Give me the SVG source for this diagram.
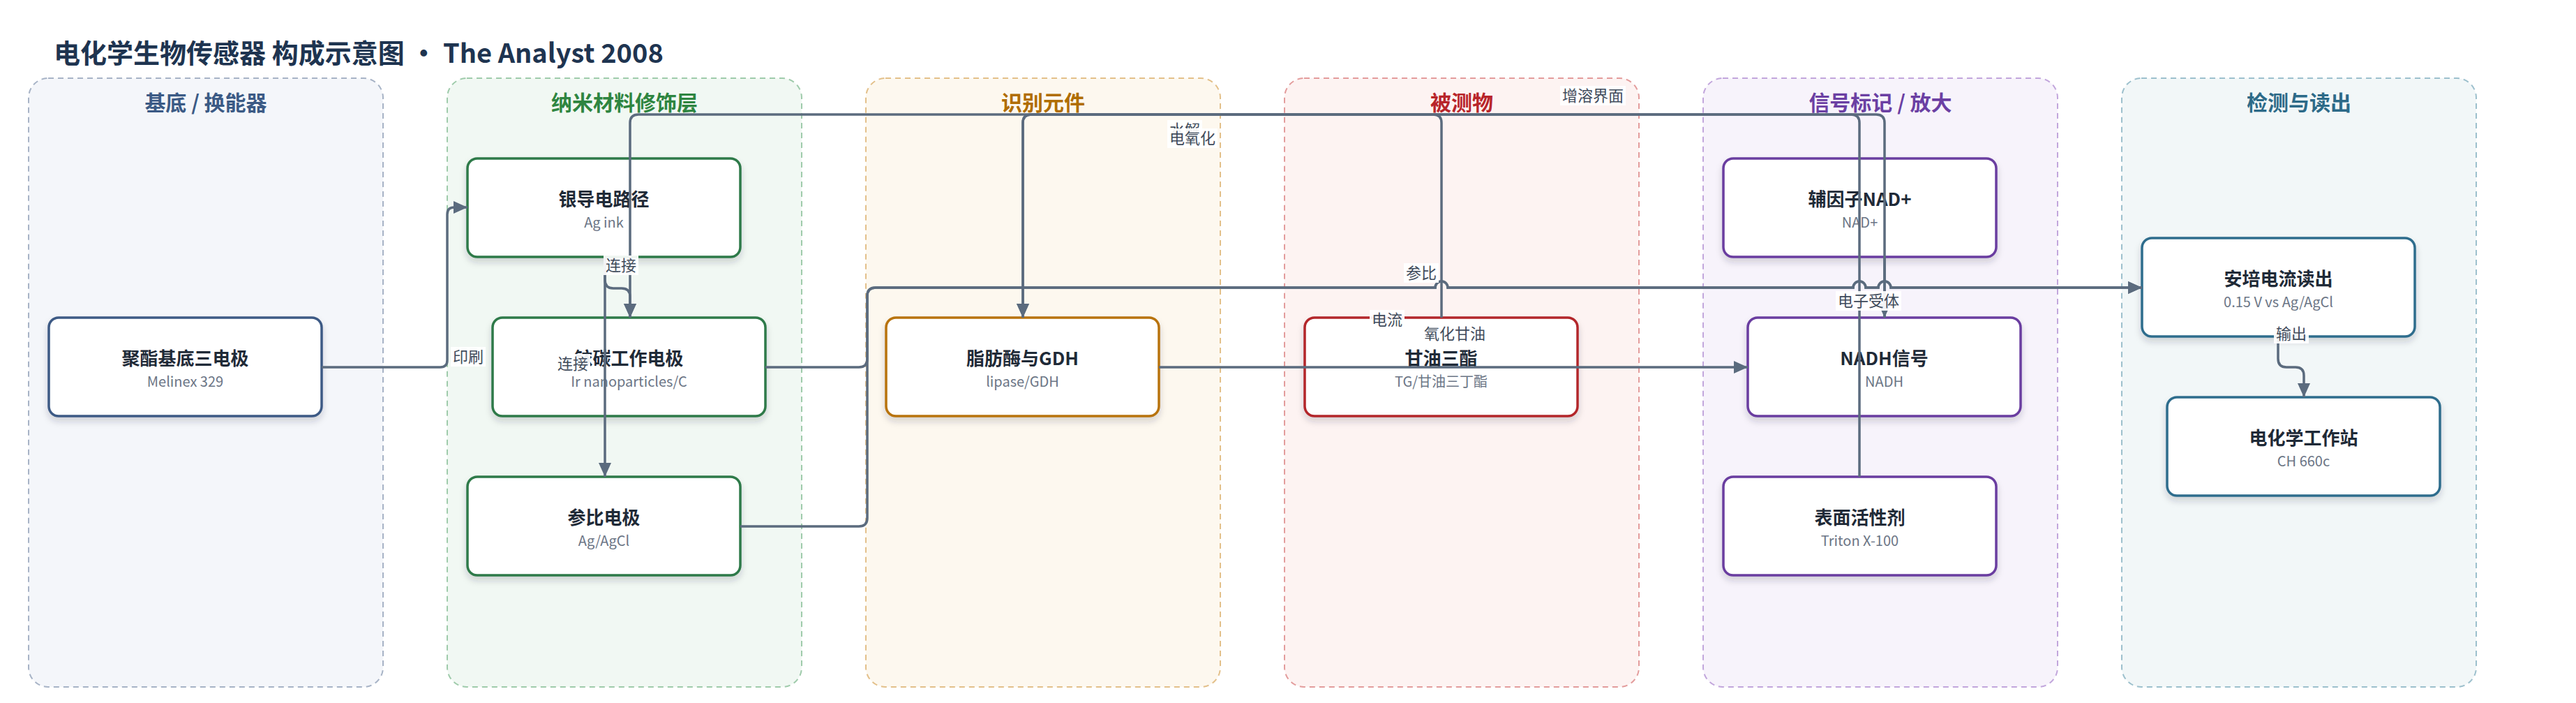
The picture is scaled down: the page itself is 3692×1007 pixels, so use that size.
<svg xmlns="http://www.w3.org/2000/svg" width="3692" height="1007" viewBox="0 0 3692 1007">
<defs>
<style>
text{font-family:"Noto Sans CJK SC","Noto Sans",sans-serif}
.title{font-size:38px;font-weight:700;fill:#1e3450}
.glabel{font-size:30px;font-weight:700;text-anchor:middle}
.grp{stroke-width:2;stroke-dasharray:8 6}
.node{fill:#ffffff;stroke-width:3.5;filter:url(#sh)}
.nt{font-size:26px;font-weight:700;fill:#1f2a37;text-anchor:middle}
.ns{font-size:20px;fill:#6b7585;text-anchor:middle}
.edge{fill:none;stroke:#5b6b7e;stroke-width:3.5}
.arr{marker-end:url(#ah)}
.lb{fill:#ffffff;fill-opacity:0.92}
.lt{font-size:22px;fill:#3f4b5b;text-anchor:middle}
</style>
<filter id="sh" x="-10%" y="-20%" width="120%" height="150%">
<feDropShadow dx="0" dy="6" stdDeviation="5" flood-color="#1f2a37" flood-opacity="0.18"/>
</filter>
<marker id="ah" markerUnits="userSpaceOnUse" markerWidth="20" markerHeight="18" refX="20" refY="9" orient="auto">
<path d="M0,0 L20,9 L0,18 z" fill="#5b6b7e"/>
</marker>
</defs>
<rect width="3692" height="1007" fill="#ffffff"/>
<text class="title" x="77" y="90">电化学生物传感器 构成示意图 · The Analyst 2008</text>

<g id="groups">
<g id="g_substrate"><rect class="grp" x="41" y="112" width="508" height="872" rx="28" fill="#f4f6fa" stroke="#a7b3c6"/><text class="glabel" x="295" y="158" fill="#3b5a85">基底 / 换能器</text></g>
<g id="g_nano"><rect class="grp" x="641" y="112" width="508" height="872" rx="28" fill="#f1f8f3" stroke="#9fcbab"/><text class="glabel" x="895" y="158" fill="#2e8540">纳米材料修饰层</text></g>
<g id="g_recog"><rect class="grp" x="1241" y="112" width="508" height="872" rx="28" fill="#fdf8ef" stroke="#e3c08a"/><text class="glabel" x="1495" y="158" fill="#b06d00">识别元件</text></g>
<g id="g_analyte"><rect class="grp" x="1841" y="112" width="508" height="872" rx="28" fill="#fdf3f2" stroke="#e39c9c"/><text class="glabel" x="2095" y="158" fill="#b8252a">被测物</text></g>
<g id="g_signal"><rect class="grp" x="2441" y="112" width="508" height="872" rx="28" fill="#f7f3fb" stroke="#c2a6dc"/><text class="glabel" x="2695" y="158" fill="#6b3fa3">信号标记 / 放大</text></g>
<g id="g_readout"><rect class="grp" x="3041" y="112" width="508" height="872" rx="28" fill="#f2f7f8" stroke="#9dc0cd"/><text class="glabel" x="3295" y="158" fill="#2d6a88">检测与读出</text></g>
</g>

<g id="nodes">
<g id="n_pet"><rect class="node" x="70" y="455" width="391" height="141" rx="14" stroke="#3d5a85"/><text class="nt" x="265.5" y="523">聚酯基底三电极</text><text class="ns" x="265.5" y="554">Melinex 329</text></g>
<g id="n_ag"><rect class="node" x="670" y="227" width="391" height="141" rx="14" stroke="#2e7a48"/><text class="nt" x="865.5" y="295">银导电路径</text><text class="ns" x="865.5" y="326">Ag ink</text></g>
<g id="n_ir"><rect class="node" x="706" y="455" width="391" height="141" rx="14" stroke="#2e7a48"/><text class="nt" x="901.5" y="523">铱碳工作电极</text><text class="ns" x="901.5" y="554">Ir nanoparticles/C</text></g>
<g id="n_ref"><rect class="node" x="670" y="683" width="391" height="141" rx="14" stroke="#2e7a48"/><text class="nt" x="865.5" y="751">参比电极</text><text class="ns" x="865.5" y="782">Ag/AgCl</text></g>
<g id="n_lip"><rect class="node" x="1270" y="455" width="391" height="141" rx="14" stroke="#b8730a"/><text class="nt" x="1465.5" y="523">脂肪酶与GDH</text><text class="ns" x="1465.5" y="554">lipase/GDH</text></g>
<g id="n_tg"><rect class="node" x="1870" y="455" width="391" height="141" rx="14" stroke="#b3262b"/><text class="nt" x="2065.5" y="523">甘油三酯</text><text class="ns" x="2065.5" y="554">TG/甘油三丁酯</text></g>
<g id="n_nad"><rect class="node" x="2470" y="227" width="391" height="141" rx="14" stroke="#6a3ea0"/><text class="nt" x="2665.5" y="295">辅因子NAD+</text><text class="ns" x="2665.5" y="326">NAD+</text></g>
<g id="n_nadh"><rect class="node" x="2505" y="455" width="391" height="141" rx="14" stroke="#6a3ea0"/><text class="nt" x="2700.5" y="523">NADH信号</text><text class="ns" x="2700.5" y="554">NADH</text></g>
<g id="n_surf"><rect class="node" x="2470" y="683" width="391" height="141" rx="14" stroke="#6a3ea0"/><text class="nt" x="2665.5" y="751">表面活性剂</text><text class="ns" x="2665.5" y="782">Triton X-100</text></g>
<g id="n_amp"><rect class="node" x="3070" y="341" width="391" height="141" rx="14" stroke="#2f6d8d"/><text class="nt" x="3265.5" y="409">安培电流读出</text><text class="ns" x="3265.5" y="440">0.15 V vs Ag/AgCl</text></g>
<g id="n_ws"><rect class="node" x="3106" y="569" width="391" height="141" rx="14" stroke="#2f6d8d"/><text class="nt" x="3301.5" y="637">电化学工作站</text><text class="ns" x="3301.5" y="668">CH 660c</text></g>
</g>

<g id="connectors">
<path id="e_print" class="edge arr" d="M461,526 H631 Q641,526 641,516 V307 Q641,297 651,297 H670"/>
<path id="e_conn1" class="edge arr" d="M867,368 V401 Q867,413 879,413 H891 Q903,413 903,425 V455"/>
<path id="e_conn2" class="edge arr" d="M867,368 V683"/>
<path id="e_surf" class="edge arr" d="M2665,683 V176 Q2665,164 2653,164 H1478 Q1466,164 1466,176 V455"/>
<path id="e_hydro" class="edge arr" d="M2066,455 V176 Q2066,164 2054,164 H1478 Q1466,164 1466,176 V455"/>
<path id="e_elox" class="edge arr" d="M2701,455 V176 Q2701,164 2689,164 H915 Q903,164 903,176 V455"/>
<path id="e_acc" class="edge arr" d="M2701,368 V455"/>
<path id="e_glyc" class="edge arr" d="M1661,526 H2505"/>
<path id="e_cur" class="edge arr" d="M1097,526 H1231 Q1243,526 1243,514 V424 Q1243,412 1255,412 H2057 A9,9 0 0 1 2075,412 H2656 A9,9 0 0 1 2674,412 H2692 A9,9 0 0 1 2710,412 H3070"/>
<path id="e_refl" class="edge arr" d="M1061,754 H1231 Q1243,754 1243,742 V424 Q1243,412 1255,412 H2057 A9,9 0 0 1 2075,412 H2656 A9,9 0 0 1 2674,412 H2692 A9,9 0 0 1 2710,412 H3070"/>
<path id="e_out" class="edge arr" d="M3265,482 V514 Q3265,526 3277,526 H3290 Q3302,526 3302,538 V569"/>
<g id="edge_labels">
<rect class="lb" x="646" y="497" width="50" height="28"/><text class="lt" x="671" y="519">印刷</text>
<rect class="lb" x="865" y="366" width="50" height="28"/><text class="lt" x="890" y="388">连接</text>
<rect class="lb" x="796" y="507" width="50" height="28"/><text class="lt" x="821" y="529">连接</text>
<rect class="lb" x="1673" y="172" width="50" height="28"/><text class="lt" x="1698" y="194">水解</text>
<rect class="lb" x="1673" y="184" width="72" height="28"/><text class="lt" x="1709" y="206">电氧化</text>
<rect class="lb" x="2236" y="123" width="94" height="28"/><text class="lt" x="2283" y="145">增溶界面</text>
<rect class="lb" x="2012" y="377" width="50" height="28"/><text class="lt" x="2037" y="399">参比</text>
<rect class="lb" x="1963" y="444" width="50" height="28"/><text class="lt" x="1988" y="466">电流</text>
<rect class="lb" x="2038" y="464" width="94" height="28"/><text class="lt" x="2085" y="486">氧化甘油</text>
<rect class="lb" x="2631" y="417" width="94" height="28"/><text class="lt" x="2678" y="439">电子受体</text>
<rect class="lb" x="3259" y="464" width="50" height="28"/><text class="lt" x="3284" y="486">输出</text>
</g>
</g>
</svg>
